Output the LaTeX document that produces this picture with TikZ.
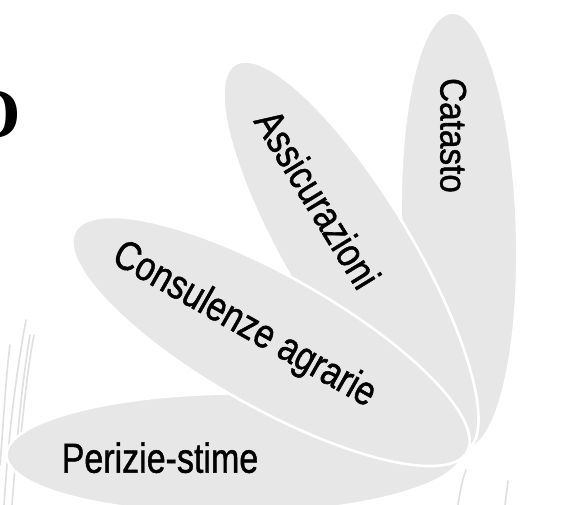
\documentclass[tikz,border=0pt]{standalone}
\usepackage{fontspec}
\setmainfont{Liberation Sans}[FakeBold=1.2]
\newfontfamily\titleserif{Liberation Serif}
\definecolor{petalgray}{RGB}{231,231,231}
\definecolor{stalkgray}{RGB}{150,150,150}
\begin{document}
\begin{tikzpicture}[x=1pt,y=1pt,
  petal/.style={fill=petalgray,draw=white,line width=2.6pt},
  petaltext/.style={inner sep=0pt,text depth=0pt,text=black},
  stalk/.style={draw=stalkgray,line width=1.6pt,opacity=0.3,line cap=round}]
\useasboundingbox (0,0) rectangle (567,505);
\fill[white] (0,0) rectangle (567,505);
% faint wheat stalks of the background photo
\draw[stalk] (4,0) .. controls (8,60) and (14,120) .. (26,185);
\draw[stalk] (12,0) .. controls (16,50) and (20,110) .. (30,170);
\draw[stalk] (0,40) .. controls (4,90) and (6,130) .. (10,160);
\draw[stalk] (20,60) .. controls (24,100) and (28,140) .. (34,170);
\draw[stalk] (458,0) .. controls (460,12) and (462,25) .. (466,35);
\draw[stalk] (505,0) .. controls (506,8) and (507,16) .. (508,24);
% partially visible title letter
\node[inner sep=0pt,anchor=base east,font=\titleserif\bfseries\fontsize{70}{70}\selectfont] (title) at (21,367) {O};
% petals
\path[petal] (459,274.5) ellipse[x radius=218,y radius=58,rotate=91.8];
\path[petal] (351,248) ellipse[x radius=225,y radius=62,rotate=121];
\path[petal] (234.5,51.5) ellipse[x radius=228,y radius=60,rotate=0.4];
\path[petal] (271,163.5) ellipse[x radius=225,y radius=66,rotate=150.6];
% labels
\node[petaltext,text height=26.5pt,font=\fontsize{37}{37}\selectfont,rotate=-90] (catasto) at (453.7,369.5) {\scalebox{0.9}[1]{Catasto}};
\node[petaltext,text height=29.4pt,font=\fontsize{41}{41}\selectfont,rotate=-58.5] (assic) at (318,306) {\scalebox{0.83}[1]{Assicurazioni}};
\node[petaltext,text height=29.4pt,font=\fontsize{41}{41}\selectfont,rotate=-29.5] (consul) at (246,183) {\scalebox{0.83}[1]{Consulenze agrarie}};
\node[petaltext,text height=30pt,font=\fontsize{42}{42}\selectfont] (perizie) at (160,47.3) {\scalebox{0.81}[1]{Perizie-stime}};
\end{tikzpicture}
\end{document}
